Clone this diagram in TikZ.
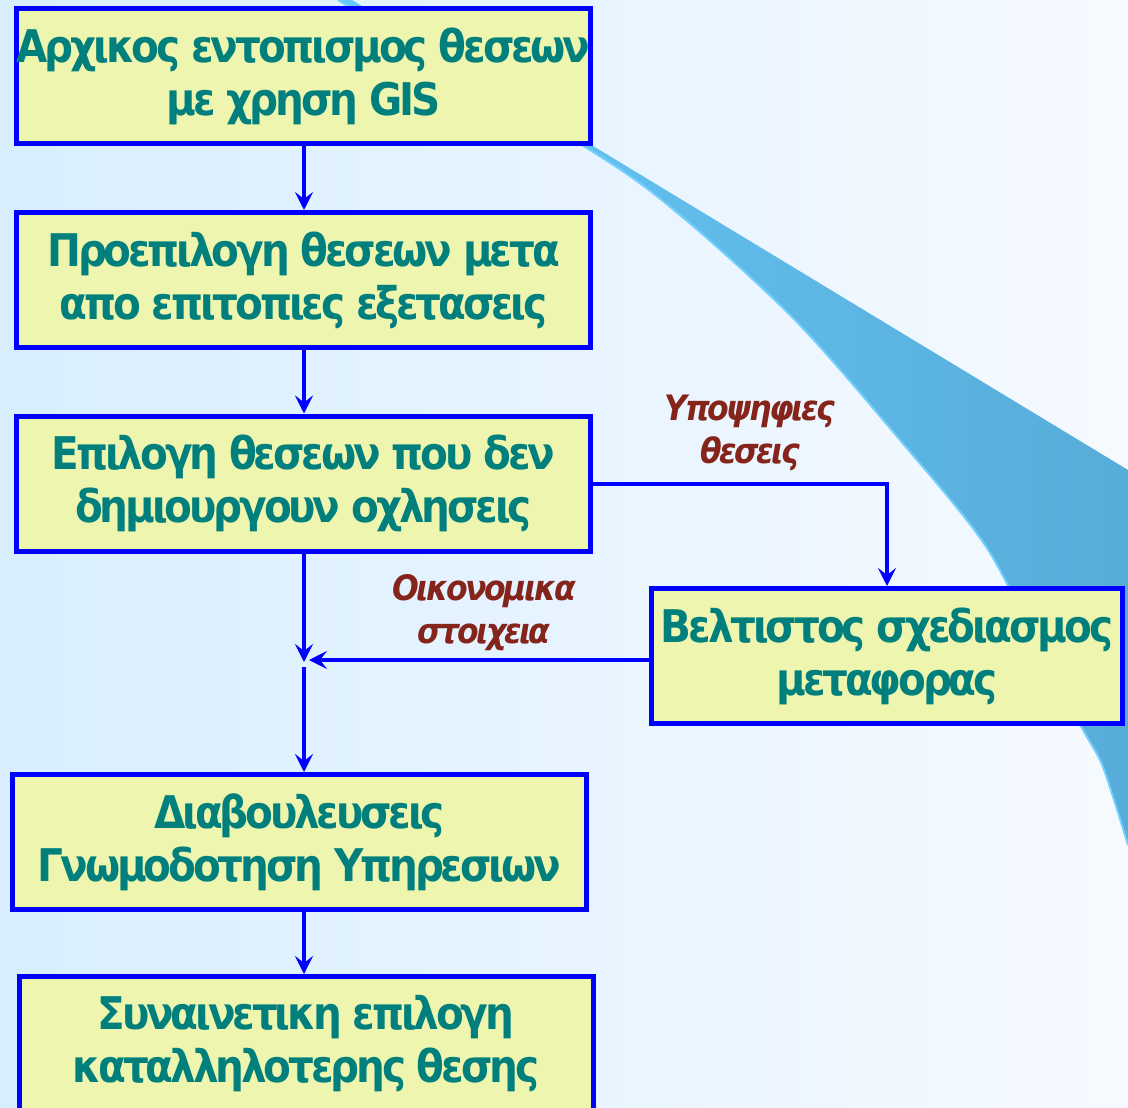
\documentclass[tikz,border=0pt]{standalone}
\usepackage{fontspec}
\setmainfont{DejaVu Sans}
\newfontfamily\bxfont{DejaVu Sans}[FakeStretch=0.9,LetterSpace=-7]
\usetikzlibrary{arrows.meta}
\definecolor{bgL}{HTML}{D8EEFF}
\definecolor{bgR}{HTML}{F6FAFF}
\definecolor{swL}{HTML}{68C8F8}
\definecolor{swR}{HTML}{57ACD9}
\definecolor{swRim}{HTML}{72D0FF}
\definecolor{boxblue}{HTML}{0000FF}
\definecolor{boxfill}{HTML}{EDF5AE}
\definecolor{txtteal}{HTML}{007F7C}
\definecolor{lblred}{HTML}{84241A}
\tikzset{
  box/.style={draw=boxblue, line width=5pt, fill=boxfill, minimum width=574pt,
    minimum height=135pt, inner sep=0pt, align=center, text=txtteal,
    font=\bxfont\bfseries\fontsize{45}{53}\selectfont},
  arr/.style={draw=boxblue, line width=4pt, -{Stealth[length=18pt,width=18pt,inset=7pt]}},
  lbl/.style={text=lblred, align=center, font=\bxfont\bfseries\itshape\fontsize{35}{43}\selectfont}
}
\begin{document}
\begin{tikzpicture}[x=1pt,y=-1pt]
\shade[left color=bgL, right color=bgR] (0,0) rectangle (1128,1108);
\useasboundingbox (0,0) rectangle (1128,1108);
% swoosh
\shade[left color=swL, right color=swR] (338,0) -- (352,0) -- (1128,470) -- (1128,845)
  -- plot[smooth] coordinates {(1128,845) (1103,767) (1083,730) (1040,650) (985,545) (900,440) (795,320) (680,215) (590,150) (338,0)} -- cycle;
\draw[swRim, line width=2pt] plot[smooth] coordinates {(1128,845) (1103,767) (1083,730) (1040,650) (985,545) (900,440) (795,320) (680,215) (590,150) (338,0)};
% boxes
\node[box] (b1) at (303.5,76) {Αρχικος εντοπισμος θεσεων\\με χρηση GIS};
\node[box] (b2) at (303.5,280) {Προεπιλογη θεσεων μετα\\απο επιτοπιες εξετασεις};
\node[box] (b3) at (303.5,483.5) {Επιλογη θεσεων που δεν\\δημιουργουν οχλησεις};
\node[box, minimum width=471pt] (b4) at (887,656) {Βελτιστος σχεδιασμος\\μεταφορας};
\node[box] (b5) at (299.5,842) {Διαβουλευσεις\\Γνωμοδοτηση Υπηρεσιων};
\node[box] (b6) at (306,1044) {Συναινετικη επιλογη\\καταλληλοτερης θεσης};
% junction coordinates
\coordinate (j) at (304,660);
\coordinate (jv) at (304,662);
\coordinate (jh) at (309,660);
\coordinate (js) at (304,667);
% connectors
\draw[arr] (b1.south -| j) -- (b2.north -| j);
\draw[arr] (b2.south -| j) -- (b3.north -| j);
\draw[arr] (b3.south -| j) -- (jv);
\draw[arr] (b4.west |- jh) -- (jh);
\draw[arr] (js) -- (b5.north -| j);
\draw[arr] (b5.south -| j) -- (b6.north -| j);
\draw[arr] (b3.east) -| (b4.north);
% labels
\node[lbl] (l1) at (750,433) {Υποψηφιες\\θεσεις};
\node[lbl] (l2) at (484,613) {Οικονομικα\\στοιχεια};
\end{tikzpicture}
\end{document}
